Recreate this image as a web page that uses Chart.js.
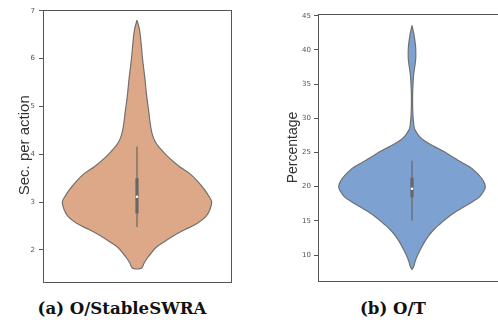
<!DOCTYPE html>
<html>
<head>
<meta charset="utf-8">
<script src="https://cdn.jsdelivr.net/npm/chart.js@4/dist/chart.umd.min.js"></script>
<style>
  html, body { margin: 0; padding: 0; background: #fff; overflow: hidden; }
  body { width: 498px; height: 333px; position: relative; }
  canvas { position: absolute; top: 0; }
  #violinA { left: 0; }
  #violinB { left: 250px; }
  .caption {
    position: absolute; top: 298px; width: 240px; text-align: center;
    font-family: "DejaVu Serif", serif; font-weight: bold; font-size: 16.6px; color: #111;
  }
</style>
</head>
<body>
<canvas id="violinA" width="245" height="295"></canvas>
<canvas id="violinB" width="260" height="295"></canvas>
<div class="caption" style="left:2px">(a) O/StableSWRA</div>
<div class="caption" style="left:273px">(b) O/T</div>

<script>
// (a) seconds per action: density outline, top to bottom
var levelsA = [6.80, 6.60, 6.30, 6.00, 5.60, 5.20, 4.90, 4.60, 4.40, 4.24, 4.10, 3.95, 3.75, 3.60, 3.45, 3.26, 3.10, 3.00, 2.85, 2.70, 2.55, 2.42, 2.30, 2.15, 2.05, 1.93, 1.82, 1.72, 1.62];
var widthsA = [0, 2.5, 4.2, 5.5, 7.8, 9.8, 11.7, 13.5, 15.5, 18.8, 24, 30.8, 42, 52.5, 60, 67.5, 72.5, 74.7, 73, 69, 60, 47.5, 37, 25.8, 19, 14, 10, 7, 4.5];
// whisker low, q1, median, q3, whisker high
var statsA = [2.48, 2.76, 3.11, 3.50, 4.16];
var ticksA = [2, 3, 4, 5, 6, 7];

// (b) percentage
var levelsB = [43.6, 42.8, 42.2, 41.0, 40.2, 39.2, 38.7, 37.8, 36.8, 35.8, 34.9, 33.5, 32.0, 30.5, 29.5, 28.8, 28.3, 27.5, 26.8, 25.85, 25.2, 24.4, 23.6, 22.9, 22.2, 21.5, 20.8, 20.0, 19.3, 18.5, 17.8, 17.1, 16.4, 15.6, 14.6, 13.7, 12.7, 11.7, 10.7, 9.77, 9.0, 8.3, 7.9];
var widthsB = [0, 1.2, 2, 3.2, 3.7, 3.8, 3.7, 3, 2, 1.3, 1, 0.6, 0.6, 0.9, 1.5, 2, 3, 6.5, 11.7, 22.5, 31, 40, 49, 57.5, 63.5, 68, 71.5, 73.3, 71.5, 67.5, 60.5, 52.5, 44.5, 36.7, 28.5, 21.7, 16, 11.7, 8, 5, 3, 1.7, 0];
var statsB = [15.0, 18.45, 19.7, 21.3, 23.8];
var ticksB = [10, 15, 20, 25, 30, 35, 40, 45];

// frame around the plot area
var framePlugin = {
  id: 'frame',
  afterDraw: function(chart) {
    var a = chart.chartArea, ctx = chart.ctx;
    ctx.save();
    ctx.strokeStyle = '#555';
    ctx.lineWidth = 1;
    ctx.strokeRect(Math.round(a.left) + 0.5, Math.round(a.top) + 0.5,
                   Math.round(a.right - a.left), Math.round(a.bottom - a.top));
    ctx.restore();
  }
};

function makeViolin(id, levels, widths, stats, ticks, o) {
  // right side going down, then left side coming back up
  var outline = [];
  for (var i = 0; i < levels.length; i++) outline.push({x: widths[i], y: levels[i]});
  for (var j = levels.length - 1; j >= 0; j--) outline.push({x: -widths[j], y: levels[j]});

  return new Chart(document.getElementById(id), {
    type: 'scatter',
    data: {
      datasets: [
        { // median dot
          data: [{x: 0, y: stats[2]}],
          pointRadius: 1.3, pointBackgroundColor: '#fff', pointBorderWidth: 0, showLine: false
        },
        { // box
          data: [{x: 0, y: stats[1]}, {x: 0, y: stats[3]}],
          showLine: true, borderColor: '#666', borderWidth: 3.2, borderCapStyle: 'butt', pointRadius: 0
        },
        { // whiskers
          data: [{x: 0, y: stats[0]}, {x: 0, y: stats[4]}],
          showLine: true, borderColor: '#666', borderWidth: 1.2, pointRadius: 0
        },
        { // violin body
          data: outline,
          showLine: true, tension: 0.4, fill: 'shape',
          backgroundColor: o.fill, borderColor: '#707070', borderWidth: 1.2, pointRadius: 0
        }
      ]
    },
    options: {
      responsive: false,
      animation: false,
      layout: { padding: o.padding },
      plugins: { legend: { display: false }, tooltip: { enabled: false } },
      scales: {
        x: { display: false, min: -94, max: 94 },
        y: {
          min: o.min, max: o.max,
          afterFit: function(s) { s.width = o.axisWidth; },
          afterBuildTicks: function(s) { s.ticks = ticks.map(function(v) { return {value: v}; }); },
          border: { display: false },
          grid: { drawOnChartArea: false, tickLength: 4, color: '#555' },
          ticks: { padding: o.tickPad, color: '#555', font: { family: 'DejaVu Sans', size: 7 } },
          title: {
            display: true, text: o.title, color: '#333',
            padding: { top: o.titlePad, bottom: 0 },
            font: { family: 'Liberation Sans', size: o.titleSize }
          }
        }
      }
    },
    plugins: [framePlugin]
  });
}

makeViolin('violinA', levelsA, widthsA, statsA, ticksA, {
  fill: 'rgb(221,168,135)', min: 1.35, max: 7.025, axisWidth: 43, tickPad: 4,
  title: 'Sec. per action', titleSize: 15, titlePad: 16,
  padding: { top: 9.5, bottom: 14, left: 0, right: 14 }
});

makeViolin('violinB', levelsB, widthsB, statsB, ticksB, {
  fill: 'rgb(125,161,208)', min: 6.2, max: 45.25, axisWidth: 68, tickPad: 3,
  title: 'Percentage', titleSize: 14, titlePad: 35,
  padding: { top: 14, bottom: 14, left: 0, right: 4 }
});
</script>
</body>
</html>
